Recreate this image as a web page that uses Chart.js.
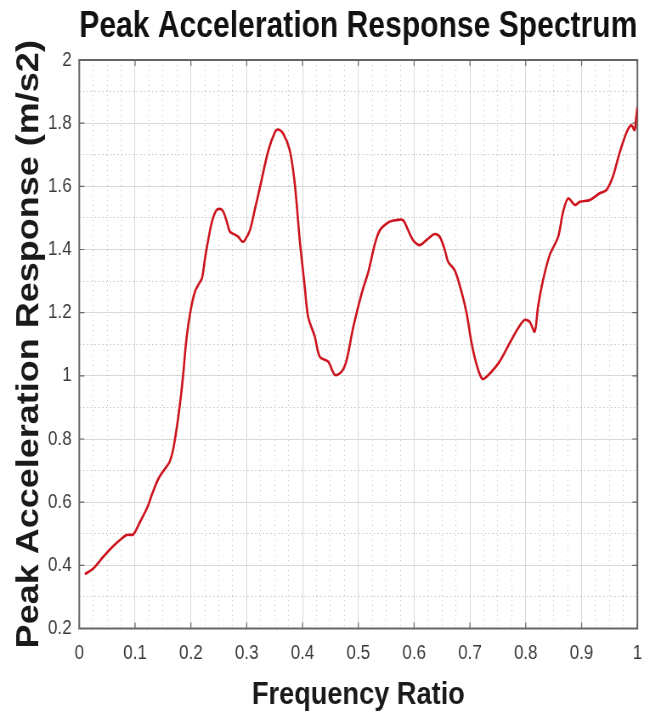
<!DOCTYPE html>
<html>
<head>
<meta charset="utf-8">
<title>Peak Acceleration Response Spectrum</title>
<script src="https://cdn.jsdelivr.net/npm/chart.js@4.4.1/dist/chart.umd.min.js"></script>
<style>
  html, body { margin: 0; padding: 0; overflow: hidden; background: #ffffff; }
  /* The figure is laid out on a wider canvas and narrowed horizontally */
  #wrap { width: 778px; height: 716px; transform: scaleX(0.8496); transform-origin: 0 0; }
  canvas { display: block; }
</style>
</head>
<body>
<div id="wrap"><canvas id="spectrum" width="778" height="716"></canvas></div>
<script>
// Frequency ratio (x) and peak acceleration response in m/s2 (y)
const frequencyRatio = [
  0.010, 0.025, 0.043, 0.061, 0.076, 0.085, 0.096, 0.100, 0.109, 0.122,
  0.131, 0.142, 0.154, 0.162, 0.168, 0.174, 0.179, 0.183, 0.187, 0.191,
  0.196, 0.202, 0.208, 0.214, 0.220, 0.226, 0.231, 0.238, 0.246, 0.253,
  0.258, 0.264, 0.270, 0.278, 0.285, 0.292, 0.297, 0.306, 0.315, 0.324,
  0.339, 0.351, 0.356, 0.365, 0.377, 0.386, 0.395, 0.404, 0.410, 0.422,
  0.431, 0.446, 0.458, 0.470, 0.479, 0.491, 0.506, 0.518, 0.530, 0.539,
  0.556, 0.568, 0.580, 0.589, 0.598, 0.610, 0.622, 0.637, 0.646, 0.655,
  0.661, 0.673, 0.685, 0.694, 0.703, 0.712, 0.7225, 0.737, 0.753, 0.771,
  0.786, 0.798, 0.807, 0.816, 0.822, 0.831, 0.843, 0.858, 0.867, 0.876,
  0.888, 0.897, 0.915, 0.9325, 0.9445, 0.956, 0.968, 0.980, 0.989, 0.995,
  0.998, 1.000
];
const peakAcceleration = [
  0.372, 0.390, 0.427, 0.461, 0.485, 0.496, 0.497, 0.506, 0.538, 0.584,
  0.628, 0.675, 0.707, 0.728, 0.765, 0.828, 0.892, 0.950, 1.020, 1.100,
  1.170, 1.230, 1.270, 1.290, 1.310, 1.380, 1.430, 1.490, 1.525, 1.528,
  1.520, 1.490, 1.456, 1.448, 1.440, 1.425, 1.430, 1.462, 1.530, 1.599,
  1.715, 1.773, 1.780, 1.768, 1.715, 1.610, 1.430, 1.282, 1.187, 1.124,
  1.060, 1.045, 1.003, 1.013, 1.050, 1.155, 1.261, 1.330, 1.420, 1.462,
  1.488, 1.493, 1.493, 1.462, 1.430, 1.414, 1.430, 1.449, 1.440, 1.398,
  1.361, 1.333, 1.265, 1.198, 1.103, 1.035, 0.990, 1.010, 1.045, 1.103,
  1.150, 1.177, 1.171, 1.140, 1.219, 1.303, 1.383, 1.440, 1.520, 1.562,
  1.541, 1.551, 1.557, 1.578, 1.588, 1.630, 1.705, 1.768, 1.794, 1.778,
  1.820, 1.850
];

// Axis ticks
const xTickValues = [0, 0.1, 0.2, 0.3, 0.4, 0.5, 0.6, 0.7, 0.8, 0.9, 1];
const xTickLabels = ['0', '0.1', '0.2', '0.3', '0.4', '0.5', '0.6', '0.7', '0.8', '0.9', '1'];
const yTickValues = [0.2, 0.4, 0.6, 0.8, 1, 1.2, 1.4, 1.6, 1.8, 2];
const yTickLabels = ['0.2', '0.4', '0.6', '0.8', '1', '1.2', '1.4', '1.6', '1.8', '2'];
// Minor (dotted) grid positions
const xMinorValues = [];
for (let i = 1; i < 40; i++) if (i % 4 !== 0) xMinorValues.push(i * 0.025);
const yMinorValues = [0.3, 0.5, 0.7, 0.9, 1.1, 1.3, 1.5, 1.7, 1.9];

const FONT = "'Liberation Sans', Arial, Helvetica, sans-serif";
const FRAME = '#666666';

const points = frequencyRatio.map((f, i) => ({ x: f, y: peakAcceleration[i] }));

// Box outline with inward tick marks on all four sides
const frameTicks = {
  id: 'frameTicks',
  beforeDatasetsDraw(chart) {
    const { ctx, chartArea: a, scales } = chart;
    const len = 6;
    ctx.save();
    ctx.strokeStyle = FRAME;
    ctx.lineWidth = 1.2;
    ctx.beginPath();
    xTickValues.forEach(v => {
      const px = scales.x.getPixelForValue(v);
      ctx.moveTo(px, a.bottom); ctx.lineTo(px, a.bottom - len);
      ctx.moveTo(px, a.top); ctx.lineTo(px, a.top + len);
    });
    yTickValues.forEach(v => {
      const py = scales.y.getPixelForValue(v);
      ctx.moveTo(a.left, py); ctx.lineTo(a.left + len, py);
      ctx.moveTo(a.right, py); ctx.lineTo(a.right - len, py);
    });
    ctx.stroke();
    ctx.lineWidth = 2;
    ctx.strokeRect(a.left, a.top, a.right - a.left, a.bottom - a.top);
    ctx.restore();
  }
};

new Chart(document.getElementById('spectrum'), {
  type: 'line',
  data: {
    datasets: [{
      data: points,
      borderColor: '#cc141e',
      borderWidth: 2.6,
      pointRadius: 0,
      tension: 0.3,
      fill: false
    }]
  },
  options: {
    responsive: false,
    animation: false,
    devicePixelRatio: 1,
    layout: { padding: { left: 0, right: 27.8, top: 0, bottom: 0 } },
    plugins: {
      legend: { display: false },
      tooltip: { enabled: false },
      title: {
        display: true,
        text: 'Peak Acceleration Response Spectrum',
        fullSize: false,
        color: '#111111',
        font: { family: FONT, size: 37, weight: 'bold', lineHeight: 1.2 },
        padding: { top: 5, bottom: 10.6 }
      }
    },
    scales: {
      x: {
        type: 'linear',
        position: 'bottom',
        min: 0, max: 1,
        afterBuildTicks: s => { s.ticks = xTickValues.map(v => ({ value: v })); },
        afterFit: s => { s.height = 87.5; },
        ticks: {
          color: '#3a3a3a',
          padding: 13,
          maxRotation: 0,
          autoSkip: false,
          font: { family: FONT, size: 20 },
          callback: (v, i) => xTickLabels[i]
        },
        grid: { color: '#d9d9d9', lineWidth: 1, drawTicks: false },
        border: { display: false },
        title: {
          display: true,
          text: 'Frequency Ratio',
          color: '#1a1a1a',
          font: { family: FONT, size: 32, weight: 'bold', lineHeight: 1.2 },
          padding: { top: 0, bottom: 2 }
        }
      },
      y: {
        type: 'linear',
        position: 'left',
        min: 0.2, max: 2,
        afterBuildTicks: s => { s.ticks = yTickValues.map(v => ({ value: v })); },
        afterFit: s => { s.width = 93.3; },
        ticks: {
          color: '#3a3a3a',
          padding: 9,
          autoSkip: false,
          font: { family: FONT, size: 20 },
          callback: (v, i) => yTickLabels[i]
        },
        grid: { color: '#d9d9d9', lineWidth: 1, drawTicks: false },
        border: { display: false },
        title: {
          display: true,
          text: 'Peak Acceleration Response (m/s2)',
          color: '#1a1a1a',
          font: { family: FONT, size: 36, weight: 'bold', lineHeight: 1.2 },
          padding: { top: 13, bottom: 0 }
        }
      },
      xMinor: {
        type: 'linear',
        position: 'top',
        min: 0, max: 1,
        afterBuildTicks: s => { s.ticks = xMinorValues.map(v => ({ value: v })); },
        ticks: { display: false },
        grid: { color: '#c2c2c2', lineWidth: 1, drawTicks: false },
        border: { display: false, dash: [1, 4] }
      },
      yMinor: {
        type: 'linear',
        position: 'right',
        min: 0.2, max: 2,
        afterBuildTicks: s => { s.ticks = yMinorValues.map(v => ({ value: v })); },
        ticks: { display: false },
        grid: { color: '#c2c2c2', lineWidth: 1, drawTicks: false },
        border: { display: false, dash: [1.5, 3] }
      }
    }
  },
  plugins: [frameTicks]
});
</script>
</body>
</html>
